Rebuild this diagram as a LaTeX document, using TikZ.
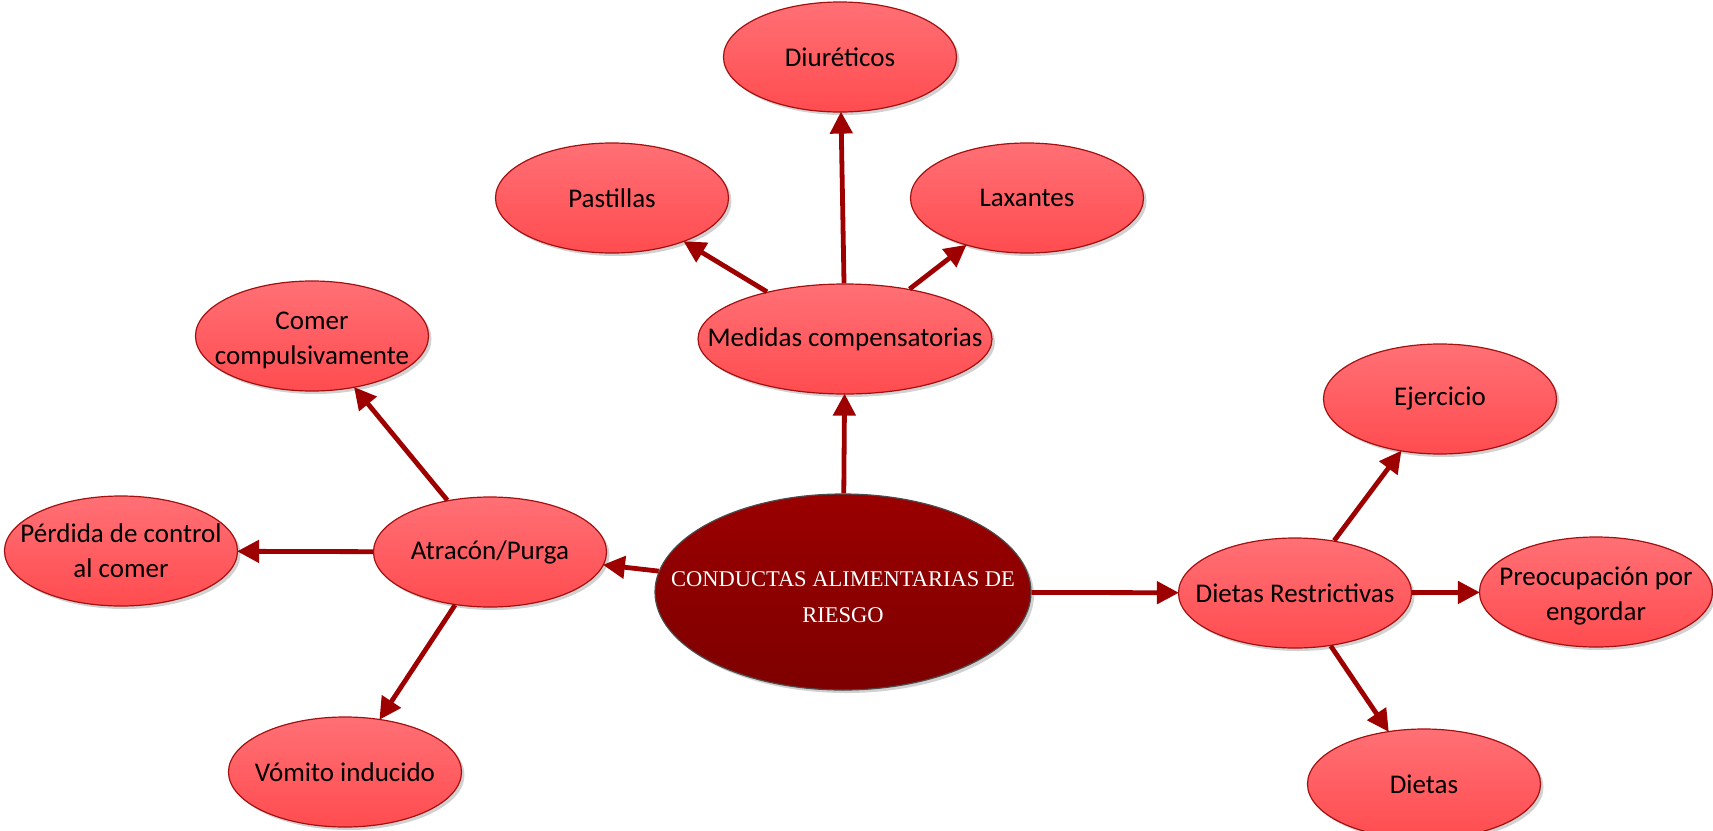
\documentclass[tikz,border=0pt]{standalone}
\usepackage{fontspec}
\setmainfont{Carlito}
\newfontfamily\timesfont{Liberation Serif}
\usetikzlibrary{shapes.geometric,shadows,arrows.meta}
\definecolor{arr}{HTML}{9E0000}
\definecolor{ntop}{HTML}{FF7075}
\definecolor{nbot}{HTML}{FF4C50}
\definecolor{nbord}{HTML}{A31010}
\definecolor{ctop}{HTML}{9A0000}
\definecolor{cbot}{HTML}{7E0000}
\tikzset{
  leaf/.style={ellipse, draw=nbord, line width=1.2pt, top color=ntop, bottom color=nbot,
    minimum width=233pt, minimum height=110pt, inner sep=0pt,
    drop shadow={shadow xshift=3pt, shadow yshift=-3pt, opacity=0.18, fill=black}},
  lbl/.style={align=center, inner sep=0pt, font=\fontsize{27}{35}\selectfont},
  lbl2/.style={lbl, yshift=-4pt},
  core/.style={ellipse, draw=black!70, line width=1.2pt, top color=ctop, bottom color=cbot,
    minimum width=376pt, minimum height=196pt, inner sep=0pt,
    drop shadow={shadow xshift=3pt, shadow yshift=-3pt, opacity=0.18, fill=black}},
  clbl/.style={align=center, inner sep=0pt, text=white, yshift=-5pt, font=\timesfont\fontsize{22.5}{36}\selectfont},
  link/.style={draw=arr, line width=4.8pt, -{Triangle[length=22pt,width=22pt]}, shorten >=-1pt}
}
\begin{document}
\begin{tikzpicture}[x=1pt,y=-1pt]
\useasboundingbox (0,0) rectangle (1713,830);
\node[core, label={[clbl]center:CONDUCTAS ALIMENTARIAS DE\\RIESGO}] (c) at (843,592) {};
\node[leaf, minimum width=294pt, label={[lbl]center:Medidas compensatorias}] (med) at (845,339) {};
\node[leaf, label={[lbl]center:Diuréticos}] (diu) at (840,57) {};
\node[leaf, label={[lbl]center:Pastillas}] (pas) at (612,198) {};
\node[leaf, label={[lbl]center:Laxantes}] (lax) at (1027,198) {};
\node[leaf, label={[lbl]center:Atracón/Purga}] (atr) at (490,552) {};
\node[leaf, label={[lbl2]center:Comer\\compulsivamente}] (com) at (312,336) {};
\node[leaf, label={[lbl]center:Pérdida de control\\al comer}] (per) at (121,551) {};
\node[leaf, label={[lbl]center:Vómito inducido}] (vom) at (345,772) {};
\node[leaf, label={[lbl]center:Dietas Restrictivas}] (die) at (1295,593) {};
\node[leaf, label={[lbl]center:Ejercicio}] (eje) at (1440,399) {};
\node[leaf, label={[lbl2]center:Preocupación por\\engordar}] (pre) at (1596,592) {};
\node[leaf, label={[lbl]center:Dietas}] (dts) at (1424,784) {};
\draw[link] (c) -- (med);
\draw[link] (c) -- (atr);
\draw[link] (c) -- (die);
\draw[link] (med) -- (diu);
\draw[link] (med) -- (pas);
\draw[link] (med) -- (lax);
\draw[link] (atr) -- (com);
\draw[link] (atr) -- (per);
\draw[link] (atr) -- (vom);
\draw[link] (die) -- (eje);
\draw[link] (die) -- (pre);
\draw[link] (die) -- (dts);
\end{tikzpicture}
\end{document}
